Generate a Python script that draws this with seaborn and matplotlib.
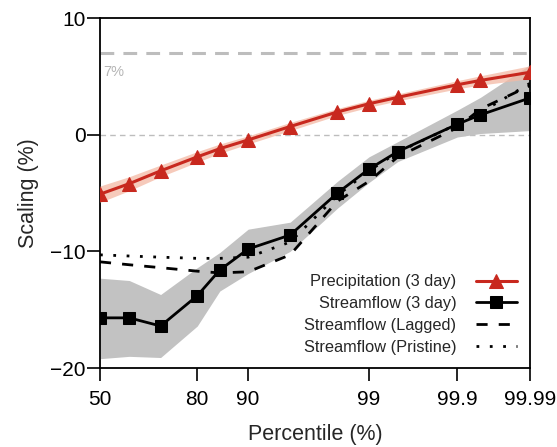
import math
import numpy as np
import pandas as pd
import matplotlib
matplotlib.use("Agg")
import matplotlib.pyplot as plt
from matplotlib.ticker import FixedLocator, FixedFormatter, NullLocator
import seaborn as sns

# percentiles of the exceedance levels (%)
percentile = [50, 60, 70, 80, 85, 90, 95, 98, 99, 99.5, 99.9, 99.95, 99.99]

precip = [-5.1, -4.2, -3.1, -1.9, -1.2, -0.45, 0.7, 1.95, 2.65, 3.2, 4.28, 4.65, 5.35]
precip_halfwidth = [0.7, 0.6, 0.5, 0.45, 0.4, 0.35, 0.35, 0.3, 0.3, 0.3, 0.35, 0.4, 0.55]

stream = [-15.7, -15.7, -16.4, -13.8, -11.6, -9.8, -8.6, -5.0, -2.95, -1.45, 0.9, 1.7, 3.15]
stream_lo = [-19.2, -19.0, -19.1, -16.4, -13.4, -11.9, -10.0, -6.3, -4.1, -2.3, -0.2, 0.1, 0.35]
stream_hi = [-12.3, -12.5, -13.7, -11.4, -10.1, -8.1, -7.5, -4.0, -1.9, -0.6, 2.1, 3.2, 6.0]

lagged = [-10.9, -11.15, -11.4, -11.7, -11.85, -11.75, -10.3, -5.7, -4.0, -1.9, 0.6, 2.2, 4.2]
pristine = [-10.3, -10.4, -10.5, -10.6, -10.6, -10.5, -9.2, -5.2, -3.1, -1.5, 0.9, 1.9, 4.4]

xticks = [50, 80, 90, 99, 99.9, 99.99]
xticklabels = ["50", "80", "90", "99", "99.9", "99.99"]
yticks = [-20, -10, 0, 10]

df = pd.DataFrame({
    "percentile": percentile,
    "precip": precip,
    "stream": stream,
    "lagged": lagged,
    "pristine": pristine,
})

# normal probability (probit) axis
_a = [-3.969683028665376e+01, 2.209460984245205e+02, -2.759285104469687e+02,
      1.383577518672690e+02, -3.066479806614716e+01, 2.506628277459239e+00]
_b = [-5.447609879822406e+01, 1.615858368580409e+02, -1.556989798598866e+02,
      6.680131188771972e+01, -1.328068155288572e+01]
_c = [-7.784894002430293e-03, -3.223964580411365e-01, -2.400758277161838e+00,
      -2.549732539343734e+00, 4.374664141464968e+00, 2.938163982698783e+00]
_d = [7.784695709041462e-03, 3.224671290700398e-01, 2.445134137142996e+00,
      3.754408661907416e+00]


def probit(pct):
    p = np.clip(np.asarray(pct, dtype=float) / 100.0, 1e-12, 1 - 1e-12)
    plow = 0.02425
    q = p - 0.5
    r = q * q
    central = ((((((_a[0] * r + _a[1]) * r + _a[2]) * r + _a[3]) * r + _a[4]) * r + _a[5]) * q /
               (((((_b[0] * r + _b[1]) * r + _b[2]) * r + _b[3]) * r + _b[4]) * r + 1))
    ql = np.sqrt(-2 * np.log(p))
    lower = ((((((_c[0] * ql + _c[1]) * ql + _c[2]) * ql + _c[3]) * ql + _c[4]) * ql + _c[5]) /
             ((((_d[0] * ql + _d[1]) * ql + _d[2]) * ql + _d[3]) * ql + 1))
    qu = np.sqrt(-2 * np.log(1 - p))
    upper = -((((((_c[0] * qu + _c[1]) * qu + _c[2]) * qu + _c[3]) * qu + _c[4]) * qu + _c[5]) /
              ((((_d[0] * qu + _d[1]) * qu + _d[2]) * qu + _d[3]) * qu + 1))
    return np.where(p < plow, lower, np.where(p > 1 - plow, upper, central))


_erf = np.vectorize(math.erf, otypes=[float])


def inv_probit(z):
    z = np.asarray(z, dtype=float)
    return 50.0 * (1 + _erf(z / math.sqrt(2)))


sns.set_style("ticks")
plt.rcParams["font.family"] = ["Liberation Sans", "DejaVu Sans"]

red = "#c8281e"

fig, ax = plt.subplots(figsize=(5.57, 4.47), dpi=100)
fig.subplots_adjust(left=0.1795, right=0.9515, top=0.9597, bottom=0.1767)
ax.set_xscale("function", functions=(probit, inv_probit))

# reference lines
ax.axhline(7, color="#bdbdbd", lw=2.2, dashes=(4.5, 3), zorder=1)
ax.axhline(0, color="#bdbdbd", lw=1.0, dashes=(4, 3), zorder=1)
ax.text(51, 5.95, "7%", color="#b5b5b5", fontsize=10.5, va="top", ha="left")

# uncertainty bands
ax.fill_between(percentile, stream_lo, stream_hi, color="#c2c2c2", lw=0, zorder=2)
p_arr = np.array(precip)
hw = np.array(precip_halfwidth)
ax.fill_between(percentile, p_arr - hw, p_arr + hw, color="#f4b9a4", alpha=0.75, lw=0, zorder=3)

sns.lineplot(data=df, x="percentile", y="precip", ax=ax, color=red, lw=2.2,
             marker="^", markersize=9.5, markeredgecolor=red,
             label="Precipitation (3 day)", zorder=6)
sns.lineplot(data=df, x="percentile", y="stream", ax=ax, color="black", lw=2.0,
             marker="s", markersize=8, markeredgecolor="black",
             label="Streamflow (3 day)", zorder=5)
sns.lineplot(data=df, x="percentile", y="lagged", ax=ax, color="black", lw=2.0,
             linestyle=(0, (4, 4)), label="Streamflow (Lagged)", zorder=4)
sns.lineplot(data=df, x="percentile", y="pristine", ax=ax, color="black", lw=2.0,
             linestyle=(0, (1, 3.8)), label="Streamflow (Pristine)", zorder=4)

ax.set_xlim(50, 99.99)
ax.set_ylim(-20, 10)
ax.xaxis.set_major_locator(FixedLocator(xticks))
ax.xaxis.set_major_formatter(FixedFormatter(xticklabels))
ax.xaxis.set_minor_locator(NullLocator())
ax.set_yticks(yticks)
ax.set_yticklabels(["\u221220", "\u221210", "0", "10"])
ax.tick_params(axis="both", which="major", direction="out", length=9.5, width=1.2,
               labelsize=15, colors="black")
ax.tick_params(axis="x", pad=6)
ax.tick_params(axis="y", pad=1)

for side in ["left", "right", "top", "bottom"]:
    ax.spines[side].set_visible(True)
    ax.spines[side].set_color("black")
    ax.spines[side].set_linewidth(1.3)

ax.set_xlabel("Percentile (%)", fontsize=15.5, labelpad=11)
ax.set_ylabel("Scaling (%)", fontsize=15.5, labelpad=8)

leg = ax.legend(loc="lower right", bbox_to_anchor=(1.0, 0.0), frameon=False,
                markerfirst=False, fontsize=11.8, handlelength=2.5,
                labelspacing=0.42, handletextpad=1.2, borderaxespad=0.4)

fig.savefig("out.png", dpi=100)
